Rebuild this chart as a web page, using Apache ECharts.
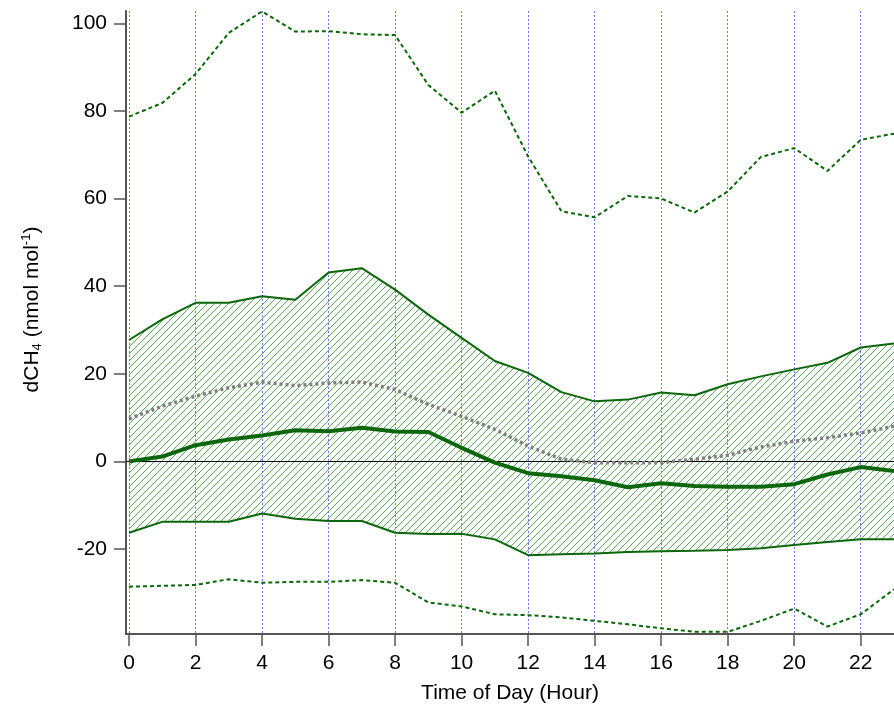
<!DOCTYPE html>
<html>
<head>
<meta charset="utf-8">
<script src="https://cdn.jsdelivr.net/npm/echarts@6/dist/echarts.min.js"></script>
<style>
  html, body { margin: 0; padding: 0; background: #fff; }
  #main { width: 894px; height: 709px; }
</style>
</head>
<body>
<div id="main"></div>
<script>
var hours = [0, 1, 2, 3, 4, 5, 6, 7, 8, 9, 10, 11, 12, 13, 14, 15, 16, 17, 18, 19, 20, 21, 22, 23];
var p95 = [78.7, 81.8, 88.4, 97.8, 102.7, 98.1, 98.2, 97.5, 97.3, 85.9, 79.6, 84.6, 69.6, 57.1, 55.7, 60.6, 60.0, 56.8, 61.6, 69.5, 71.5, 66.3, 73.4, 74.8];
var p75 = [27.7, 32.4, 36.2, 36.2, 37.7, 36.9, 43.1, 44.1, 39.2, 33.5, 28.2, 22.9, 20.2, 15.8, 13.7, 14.1, 15.7, 15.1, 17.6, 19.4, 21.0, 22.5, 26.0, 26.9];
var mean = [9.7, 12.6, 14.9, 16.8, 18.1, 17.3, 17.9, 18.1, 16.4, 13.0, 10.3, 7.3, 3.5, 0.5, -0.3, -0.3, -0.3, 0.5, 1.4, 3.3, 4.6, 5.4, 6.5, 8.0];
var median = [0, 1.1, 3.7, 5.0, 5.9, 7.1, 6.9, 7.7, 6.8, 6.7, 3.1, -0.3, -2.7, -3.4, -4.3, -5.9, -5.0, -5.6, -5.8, -5.8, -5.2, -3.0, -1.3, -2.2];
var p25 = [-16.3, -13.8, -13.8, -13.8, -11.9, -13.1, -13.6, -13.6, -16.3, -16.6, -16.5, -17.8, -21.4, -21.2, -21.0, -20.7, -20.5, -20.4, -20.2, -19.8, -19.1, -18.4, -17.8, -17.8];
var p5 = [-28.6, -28.4, -28.2, -26.9, -27.7, -27.5, -27.5, -27.1, -27.7, -32.2, -33.1, -34.9, -35.1, -35.6, -36.4, -37.2, -38.1, -38.9, -38.9, -36.4, -33.6, -37.7, -34.9, -29.2];
var xTicks = [0, 2, 4, 6, 8, 10, 12, 14, 16, 18, 20, 22];
var yTicks = [-20, 0, 20, 40, 60, 80, 100];

var green = '#0b660b';
var font = '"Liberation Sans", Arial, sans-serif';

function pairs(vals) {
    return hours.map(function (h, i) { return [h, vals[i]]; });
}

// hatch pattern for the 25-75 band
var hatch = document.createElement('canvas');
hatch.width = 7;
hatch.height = 7;
var hc = hatch.getContext('2d');
hc.strokeStyle = '#4f9a4f';
hc.lineWidth = 0.9;
hc.beginPath();
hc.moveTo(-1, 8); hc.lineTo(8, -1);
hc.moveTo(-1, 1); hc.lineTo(1, -1);
hc.moveTo(6, 8); hc.lineTo(8, 6);
hc.stroke();

var myChart = echarts.init(document.getElementById('main'));

myChart.setOption({
    animation: false,
    grid: { left: 126, right: -9, top: 11, bottom: 74 },
    xAxis: {
        type: 'value',
        min: -0.09,
        max: 23,
        name: 'Time of Day (Hour)',
        nameLocation: 'middle',
        nameGap: 49,
        nameTextStyle: { fontSize: 21, color: '#000', fontFamily: font },
        axisLine: { onZero: false, lineStyle: { color: '#555', width: 2 } },
        axisTick: { length: 12, customValues: xTicks, lineStyle: { color: '#555', width: 1.5 } },
        axisLabel: { customValues: xTicks, margin: 19, fontSize: 21, color: '#000', fontFamily: font },
        splitLine: { show: true, lineStyle: { color: '#7676e6', type: [2, 2], width: 1 } }
    },
    yAxis: {
        type: 'value',
        min: -39.4,
        max: 102.8,
        name: '{a|dCH}{s|4}{a| (nmol mol}{u|-1}{a|)}',
        nameLocation: 'middle',
        nameGap: 82,
        nameRotate: 90,
        nameTextStyle: {
            padding: [0, 0, 0, 26],
            rich: {
                a: { fontSize: 21, color: '#000', fontFamily: font, lineHeight: 24 },
                s: { fontSize: 13, color: '#000', fontFamily: font, verticalAlign: 'bottom', lineHeight: 14 },
                u: { fontSize: 13, color: '#000', fontFamily: font, verticalAlign: 'top', lineHeight: 10 }
            }
        },
        axisLine: { show: true, onZero: false, lineStyle: { color: '#555', width: 2 } },
        axisTick: { show: true, length: 12, customValues: yTicks, lineStyle: { color: '#555', width: 1.5 } },
        axisLabel: { customValues: yTicks, margin: 19, fontSize: 21, color: '#000', fontFamily: font },
        splitLine: { show: false }
    },
    series: [
        {
            // hatched band between the 25th and 75th percentiles
            name: 'band',
            type: 'custom',
            data: [0],
            silent: true,
            z: 1,
            renderItem: function (params, api) {
                var pts = [];
                hours.forEach(function (h, i) { pts.push(api.coord([h, p75[i]])); });
                for (var i = hours.length - 1; i >= 0; i--) pts.push(api.coord([hours[i], p25[i]]));
                return {
                    type: 'polygon',
                    shape: { points: pts },
                    style: { fill: { image: hatch, repeat: 'repeat' }, stroke: null }
                };
            }
        },
        {
            name: '75th',
            type: 'line',
            data: pairs(p75),
            symbol: 'none',
            lineStyle: { color: green, width: 2 },
            z: 3
        },
        {
            name: '25th',
            type: 'line',
            data: pairs(p25),
            symbol: 'none',
            lineStyle: { color: green, width: 2 },
            z: 3,
            markLine: {
                silent: true,
                symbol: 'none',
                label: { show: false },
                lineStyle: { color: '#000', width: 1, type: 'solid' },
                data: [{ yAxis: 0 }]
            }
        },
        {
            name: '95th',
            type: 'line',
            data: pairs(p95),
            symbol: 'none',
            lineStyle: { color: green, width: 2, type: [4, 3] },
            z: 4
        },
        {
            name: '5th',
            type: 'line',
            data: pairs(p5),
            symbol: 'none',
            lineStyle: { color: green, width: 2, type: [4, 3] },
            z: 4
        },
        {
            name: 'mean',
            type: 'line',
            data: pairs(mean),
            symbol: 'none',
            lineStyle: { color: '#808080', width: 3.5, type: [3, 3] },
            z: 5
        },
        {
            name: 'median',
            type: 'line',
            data: pairs(median),
            symbol: 'none',
            lineStyle: { color: green, width: 4 },
            z: 6
        }
    ]
});
</script>
</body>
</html>
